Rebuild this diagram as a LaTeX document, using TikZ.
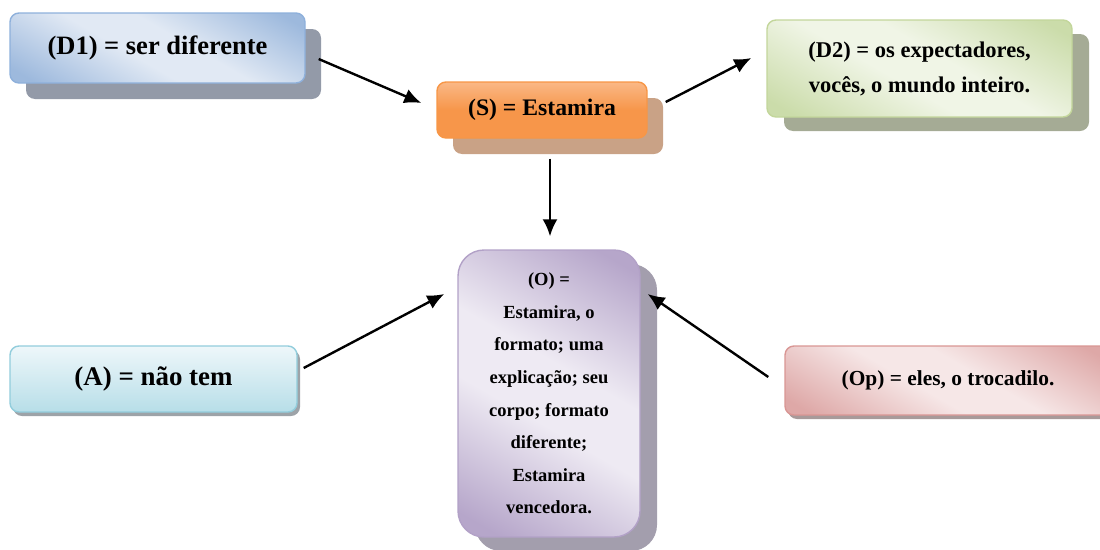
\documentclass[tikz,border=0pt]{standalone}
\usepackage{fontspec}
\setmainfont{Liberation Serif}
\usetikzlibrary{arrows.meta,shadows,calc}

\definecolor{dOneEdge}{HTML}{8EB0DB}
\definecolor{dOneDark}{HTML}{9DB9DD}
\definecolor{dOneLight}{HTML}{E1E9F4}
\definecolor{dOneShadow}{HTML}{939AA8}
\definecolor{sEdge}{HTML}{F79646}
\definecolor{sDark}{HTML}{F7964A}
\definecolor{sLight}{HTML}{FAB886}
\definecolor{sShadow}{HTML}{C9A286}
\definecolor{dTwoEdge}{HTML}{C3D69B}
\definecolor{dTwoDark}{HTML}{CBDCAA}
\definecolor{dTwoLight}{HTML}{F0F5E6}
\definecolor{dTwoShadow}{HTML}{A5AB95}
\definecolor{oEdge}{HTML}{B2A1C7}
\definecolor{oDark}{HTML}{B6A6CA}
\definecolor{oLight}{HTML}{EEEAF3}
\definecolor{oShadow}{HTML}{A39EAD}
\definecolor{aEdge}{HTML}{92CDDC}
\definecolor{aDark}{HTML}{B7DEE8}
\definecolor{aLight}{HTML}{EEF7FA}
\definecolor{aShadow}{HTML}{9DA3A8}
\definecolor{opEdge}{HTML}{D99694}
\definecolor{opDark}{HTML}{DEA8A7}
\definecolor{opLight}{HTML}{F6E7E7}
\definecolor{opShadow}{HTML}{A89A9A}

% soft diagonal sheen: darker at both ends, broad light band in the middle
\pgfdeclarehorizontalshading{dOneGlow}{100bp}{color(0bp)=(dOneDark); color(20bp)=(dOneDark);
  color(44bp)=(dOneLight); color(56bp)=(dOneLight); color(80bp)=(dOneDark); color(100bp)=(dOneDark)}
\pgfdeclarehorizontalshading{dTwoGlow}{100bp}{color(0bp)=(dTwoDark); color(20bp)=(dTwoDark);
  color(44bp)=(dTwoLight); color(56bp)=(dTwoLight); color(80bp)=(dTwoDark); color(100bp)=(dTwoDark)}
\pgfdeclarehorizontalshading{oGlow}{100bp}{color(0bp)=(oDark); color(20bp)=(oDark);
  color(44bp)=(oLight); color(56bp)=(oLight); color(80bp)=(oDark); color(100bp)=(oDark)}
\pgfdeclarehorizontalshading{opGlow}{100bp}{color(0bp)=(opDark); color(20bp)=(opDark);
  color(44bp)=(opLight); color(56bp)=(opLight); color(80bp)=(opDark); color(100bp)=(opDark)}

\tikzset{
  box/.style={rectangle, rounded corners=9pt, inner sep=0pt, align=center,
    line width=1.4pt, font=\bfseries},
  link/.style={line width=2.4pt, -{Latex[length=17pt,width=15pt]}},
}

\begin{document}
\begin{tikzpicture}[x=1pt,y=-1pt]
\useasboundingbox (0,0) rectangle (1100,549);

% (D1)
\node[box, draw=dOneEdge, minimum width=295pt, minimum height=70pt,
  shading=dOneGlow, shading angle=60,
  general shadow={fill=dOneShadow, shadow xshift=16pt, shadow yshift=-16pt},
  font=\bfseries\fontsize{26.5}{30}\selectfont]
  (d1) at (157.5,48) {\raisebox{4pt}{(D1) = ser diferente}};

% (S)
\node[box, draw=sEdge, minimum width=210pt, minimum height=56pt,
  top color=sLight, bottom color=sDark, middle color=sDark,
  general shadow={fill=sShadow, shadow xshift=16pt, shadow yshift=-16pt},
  font=\bfseries\fontsize{23.7}{28}\selectfont]
  (s) at (542,110) {(S) = Estamira};

% (D2)
\node[box, draw=dTwoEdge, minimum width=305pt, minimum height=97pt,
  shading=dTwoGlow, shading angle=60,
  general shadow={fill=dTwoShadow, shadow xshift=17pt, shadow yshift=-14pt},
  font=\bfseries\fontsize{22.5}{35}\selectfont]
  (d2) at (919.5,68.5) {(D2) = os expectadores,\\ vocês, o mundo inteiro.};

% (O)
\node[box, rounded corners=26pt, draw=oEdge, minimum width=182pt, minimum height=287pt,
  shading=oGlow, shading angle=60,
  general shadow={fill=oShadow, shadow xshift=17pt, shadow yshift=-14pt},
  font=\bfseries\fontsize{18.5}{32.6}\selectfont]
  (o) at (549,393.5) {(O) =\\ Estamira, o\\ formato; uma\\ explicação; seu\\
    corpo; formato\\ diferente;\\ Estamira\\ vencedora.};

% (A)
\node[box, draw=aEdge, minimum width=287pt, minimum height=66pt,
  top color=aLight, bottom color=aDark,
  general shadow={fill=aShadow, shadow xshift=3pt, shadow yshift=-4pt},
  font=\bfseries\fontsize{26.9}{30}\selectfont]
  (a) at (153.5,379) {(A) = não tem};

% (Op)
\node[box, draw=opEdge, minimum width=326pt, minimum height=69pt,
  shading=opGlow, shading angle=60,
  general shadow={fill=opShadow, shadow xshift=3pt, shadow yshift=-4pt},
  font=\bfseries\fontsize{21.4}{26}\selectfont]
  (op) at (948,380.5) {\raisebox{3pt}{(Op) = eles, o trocadilo.}};

% connectors
\draw[link] ($(d1.east)+(13,11)$) -- ($(s.west)+(-15,-7)$);
\draw[link] ($(s.east)+(18,-8)$) -- ($(d2.west)+(-15,-10.5)$);
\draw[link] ($(s.south)+(8,20)$) -- ($(o.north)+(1,-13)$);
\draw[link] ($(a.east)+(6,-11)$) -- ($(o.west)+(-13,-99.5)$);
\draw[link] ($(op.west)+(-16,-3.5)$) -- ($(o.east)+(7,-99.5)$);
\end{tikzpicture}
\end{document}
